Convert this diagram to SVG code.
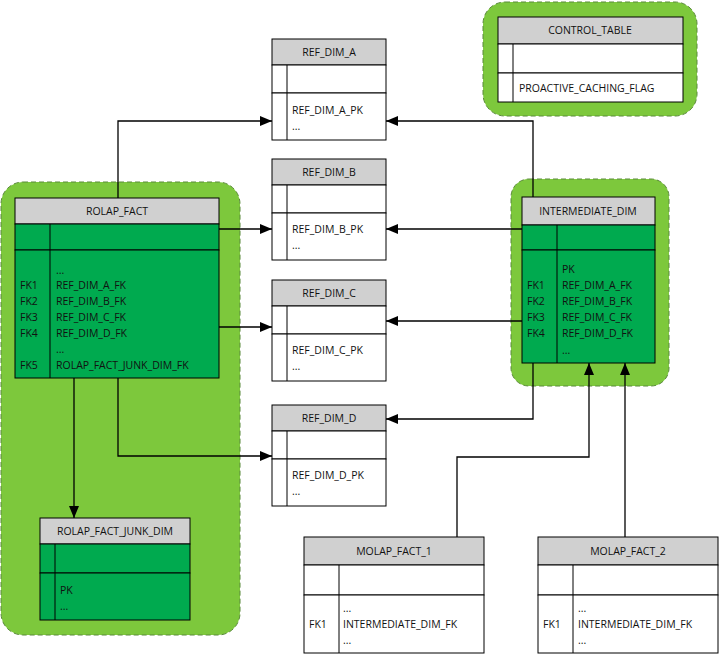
<svg xmlns="http://www.w3.org/2000/svg" width="719" height="655" viewBox="0 0 719 655">
<style>
.grp{fill:#7DC83C;stroke:#5a8a3a;stroke-dasharray:5,3;stroke-width:1}
.hd{fill:#D0D0D0;stroke:#000;stroke-width:1}
.w{fill:#fff;stroke:#000;stroke-width:1}
.g{fill:#00AA4F;stroke:#000;stroke-width:1}
.ln{stroke:#000;stroke-width:1;fill:none}
text{font-family:"Open Sans","DejaVu Sans",sans-serif;font-size:10.5px;fill:#111}
.c{text-anchor:middle}
.con path{fill:none;stroke:#000;stroke-width:1.3}
</style>
<defs>
<marker id="ar" markerWidth="12" markerHeight="10" refX="12" refY="5" orient="auto" markerUnits="userSpaceOnUse"><path d="M0,0L12,5L0,10z" fill="#000"/></marker>
</defs>
<rect class="grp" x="1" y="182" width="239" height="453" rx="22"/>
<rect class="grp" x="483" y="2" width="214" height="114" rx="22"/>
<rect class="grp" x="511" y="179" width="158" height="207" rx="18"/>

<g id="ROLAP_FACT">
<rect class="hd" x="15" y="198" width="204" height="26"/><text class="c" x="117" y="215">ROLAP_FACT</text>
<rect class="g" x="15" y="224" width="204" height="26"/><rect class="g" x="15" y="250" width="204" height="128"/>
<line class="ln" x1="50" y1="224" x2="50" y2="378"/>
<text x="56" y="274">...</text>
<text x="20" y="289">FK1</text><text x="56" y="289">REF_DIM_A_FK</text>
<text x="20" y="305">FK2</text><text x="56" y="305">REF_DIM_B_FK</text>
<text x="20" y="321">FK3</text><text x="56" y="321">REF_DIM_C_FK</text>
<text x="20" y="337">FK4</text><text x="56" y="337">REF_DIM_D_FK</text>
<text x="56" y="353">...</text>
<text x="20" y="369">FK5</text><text x="56" y="369">ROLAP_FACT_JUNK_DIM_FK</text>
</g>
<g id="REF_DIM_A">
<rect class="hd" x="272" y="39" width="114" height="26"/><text class="c" x="329" y="56">REF_DIM_A</text>
<rect class="w" x="272" y="65" width="114" height="28"/><rect class="w" x="272" y="93" width="114" height="47"/>
<line class="ln" x1="287" y1="65" x2="287" y2="140"/>
<text x="292" y="114">REF_DIM_A_PK</text><text x="292" y="130">...</text>
</g>
<g id="REF_DIM_B">
<rect class="hd" x="272" y="159" width="114" height="26"/><text class="c" x="329" y="176">REF_DIM_B</text>
<rect class="w" x="272" y="185" width="114" height="28"/><rect class="w" x="272" y="213" width="114" height="47"/>
<line class="ln" x1="287" y1="185" x2="287" y2="260"/>
<text x="292" y="233">REF_DIM_B_PK</text><text x="292" y="249">...</text>
</g>
<g id="REF_DIM_C">
<rect class="hd" x="272" y="280" width="114" height="26"/><text class="c" x="329" y="297">REF_DIM_C</text>
<rect class="w" x="272" y="306" width="114" height="28"/><rect class="w" x="272" y="334" width="114" height="47"/>
<line class="ln" x1="287" y1="306" x2="287" y2="381"/>
<text x="292" y="354">REF_DIM_C_PK</text><text x="292" y="370">...</text>
</g>
<g id="REF_DIM_D">
<rect class="hd" x="272" y="405" width="114" height="26"/><text class="c" x="329" y="422">REF_DIM_D</text>
<rect class="w" x="272" y="431" width="114" height="28"/><rect class="w" x="272" y="459" width="114" height="47"/>
<line class="ln" x1="287" y1="431" x2="287" y2="506"/>
<text x="292" y="479">REF_DIM_D_PK</text><text x="292" y="495">...</text>
</g>
<g id="CONTROL_TABLE">
<rect class="hd" x="498" y="17" width="185" height="27"/><text class="c" x="590" y="34">CONTROL_TABLE</text>
<rect class="w" x="498" y="44" width="185" height="29"/><rect class="w" x="498" y="73" width="185" height="29"/>
<line class="ln" x1="513" y1="44" x2="513" y2="102"/>
<text x="519" y="92">PROACTIVE_CACHING_FLAG</text>
</g>
<g id="INTERMEDIATE_DIM">
<rect class="hd" x="522" y="197" width="133" height="28"/><text class="c" x="588" y="215">INTERMEDIATE_DIM</text>
<rect class="g" x="522" y="225" width="133" height="25"/><rect class="g" x="522" y="250" width="133" height="113"/>
<line class="ln" x1="557" y1="225" x2="557" y2="363"/>
<text x="562" y="273">PK</text>
<text x="527" y="289">FK1</text><text x="562" y="289">REF_DIM_A_FK</text>
<text x="527" y="305">FK2</text><text x="562" y="305">REF_DIM_B_FK</text>
<text x="527" y="321">FK3</text><text x="562" y="321">REF_DIM_C_FK</text>
<text x="527" y="337">FK4</text><text x="562" y="337">REF_DIM_D_FK</text>
<text x="562" y="354">...</text>
</g>
<g id="ROLAP_FACT_JUNK_DIM">
<rect class="hd" x="40" y="518" width="150" height="26"/><text class="c" x="115" y="535">ROLAP_FACT_JUNK_DIM</text>
<rect class="g" x="40" y="544" width="150" height="29"/><rect class="g" x="40" y="573" width="150" height="47"/>
<line class="ln" x1="55" y1="544" x2="55" y2="620"/>
<text x="60" y="594">PK</text><text x="60" y="610">...</text>
</g>
<g id="MOLAP_FACT_1">
<rect class="hd" x="304" y="537" width="180" height="28"/><text class="c" x="394" y="555">MOLAP_FACT_1</text>
<rect class="w" x="304" y="565" width="180" height="30"/><rect class="w" x="304" y="595" width="180" height="58"/>
<line class="ln" x1="339" y1="565" x2="339" y2="653"/>
<text x="343" y="612">...</text>
<text x="309" y="628">FK1</text><text x="343" y="628">INTERMEDIATE_DIM_FK</text>
<text x="343" y="644">...</text>
</g>
<g id="MOLAP_FACT_2">
<rect class="hd" x="538" y="537" width="180" height="28"/><text class="c" x="628" y="555">MOLAP_FACT_2</text>
<rect class="w" x="538" y="565" width="180" height="30"/><rect class="w" x="538" y="595" width="180" height="58"/>
<line class="ln" x1="573" y1="565" x2="573" y2="653"/>
<text x="578" y="612">...</text>
<text x="543" y="628">FK1</text><text x="578" y="628">INTERMEDIATE_DIM_FK</text>
<text x="578" y="644">...</text>
</g>
<g class="con">
<path d="M118,198V121H272" marker-end="url(#ar)"/>
<path d="M219,229H272" marker-end="url(#ar)"/>
<path d="M219,327H272" marker-end="url(#ar)"/>
<path d="M118,378V456H272" marker-end="url(#ar)"/>
<path d="M74,378V518" marker-end="url(#ar)"/>
<path d="M533,197V121H386" marker-end="url(#ar)"/>
<path d="M522,229H386" marker-end="url(#ar)"/>
<path d="M522,321H386" marker-end="url(#ar)"/>
<path d="M533,363V419H386" marker-end="url(#ar)"/>
<path d="M457,537V457H589V363" marker-end="url(#ar)"/>
<path d="M625,537V363" marker-end="url(#ar)"/>
</g>
</svg>
